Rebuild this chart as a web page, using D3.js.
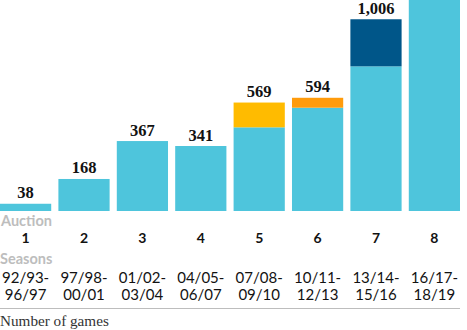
<!DOCTYPE html>
<html><head><meta charset="utf-8">
<script src="https://cdn.jsdelivr.net/npm/d3@7"></script>
<style>body{margin:0;background:#fff;overflow:hidden}</style>
</head><body>
<svg id="c" width="467" height="330"></svg>
<script>
const auctions = ["1","2","3","4","5","6","7","8"];
const seasonsTop = ["92/93-","97/98-","01/02-","04/05-","07/08-","10/11-","13/14-","16/17-"];
const seasonsBottom = ["96/97","00/01","03/04","06/07","09/10","12/13","15/16","18/19"];
const baseGames = [38,168,367,341,439,542,759,1168];
const extraGames = [0,0,0,0,130,52,247,0];
// the eighth bar's total runs off the top of the chart, so no label is shown for it
const totalLabels = ["38","168","367","341","569","594","1,006",""];
const extraColors = ["#4ec5dc","#4ec5dc","#4ec5dc","#4ec5dc","#ffbb00","#ff9b0b","#005689","#4ec5dc"];

const svg = d3.select("#c");
const x = d3.scaleBand().domain(auctions).range([0,460]).paddingInner(0.123).paddingOuter(0);
const y = d3.scaleLinear().domain([0,1000]).range([211,20.4]);

const g = svg.append("g");
g.selectAll("rect.base").data(auctions).join("rect")
  .attr("x", d=>x(d)).attr("width", x.bandwidth())
  .attr("y", (d,i)=>y(baseGames[i])).attr("height",(d,i)=>y(0)-y(baseGames[i]))
  .attr("fill","#4ec5dc");
g.selectAll("rect.extra").data(auctions.filter((d,i)=>extraGames[i]>0)).join("rect")
  .attr("x", d=>x(d)).attr("width", x.bandwidth())
  .attr("y", d=>{const i=auctions.indexOf(d); return y(baseGames[i]+extraGames[i]);})
  .attr("height", d=>{const i=auctions.indexOf(d); return y(baseGames[i])-y(baseGames[i]+extraGames[i]);})
  .attr("fill", d=>extraColors[auctions.indexOf(d)]);

g.selectAll("text.val").data(auctions.filter((d,i)=>totalLabels[i]!=="")).join("text")
  .attr("x", d=>x(d)+x.bandwidth()/2)
  .attr("y", d=>{const i=auctions.indexOf(d); return y(baseGames[i]+extraGames[i])-5.5;})
  .attr("text-anchor","middle")
  .attr("font-family","'Liberation Serif', serif").attr("font-weight","bold")
  .attr("font-size",16.5).attr("fill","#121212")
  .text(d=>totalLabels[auctions.indexOf(d)]);

svg.append("text").attr("x",1).attr("y",226).text("Auction")
  .attr("font-family","Lato").attr("font-weight","bold").attr("font-size",14.5).attr("fill","#bdbdbd");
svg.append("text").attr("x",0).attr("y",263.5).text("Seasons")
  .attr("font-family","Lato").attr("font-weight","bold").attr("font-size",14.5).attr("fill","#bdbdbd");

svg.selectAll("text.num").data(auctions).join("text")
  .attr("x", d=>x(d)+x.bandwidth()/2).attr("y",243.3).attr("text-anchor","middle")
  .attr("font-family","Lato").attr("font-weight","bold").attr("font-size",14).attr("fill","#121212")
  .text(d=>d);
svg.selectAll("text.s1").data(auctions).join("text")
  .attr("x", d=>x(d)+x.bandwidth()/2).attr("y",282.7).attr("text-anchor","middle")
  .attr("font-family","Lato").attr("font-size",15).attr("fill","#121212")
  .text((d,i)=>seasonsTop[i]);
svg.selectAll("text.s2").data(auctions).join("text")
  .attr("x", d=>x(d)+x.bandwidth()/2).attr("y",300).attr("text-anchor","middle")
  .attr("font-family","Lato").attr("font-size",15).attr("fill","#121212")
  .text((d,i)=>seasonsBottom[i]);

svg.append("line").attr("x1",0).attr("x2",460).attr("y1",308.5).attr("y2",308.5)
  .attr("stroke","#bdbdbd").attr("stroke-width",1.2);
svg.append("text").attr("x",0).attr("y",326).text("Number of games")
  .attr("font-family","'Liberation Serif', serif").attr("font-size",15.2).attr("fill","#333");
</script>
</body></html>
